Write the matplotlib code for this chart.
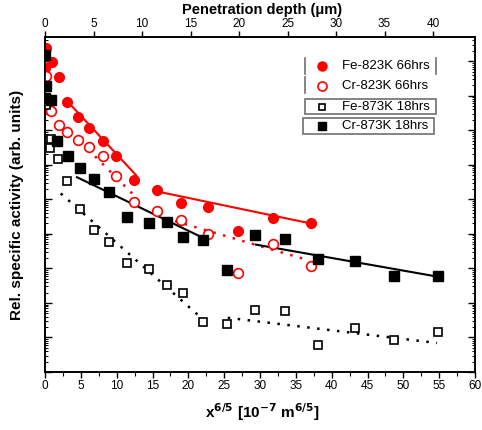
import numpy as np
import matplotlib
matplotlib.use("Agg")
import matplotlib.pyplot as plt
from matplotlib.lines import Line2D
from matplotlib.patches import Rectangle
from matplotlib.ticker import MultipleLocator, LogLocator, NullFormatter

plt.rcParams['font.family'] = ['Liberation Sans', 'DejaVu Sans']

# ---- data (x in 10^-7 m^6/5, y as log10 of relative activity) ----
fe823_x = [0.1, 1.0, 0.0, 1.95, 3.07, 4.6, 6.14, 8.09, 9.9, 12.4, 15.6, 19.0, 22.7, 26.9, 31.8, 37.1]
fe823_log = [9.39, 8.98, 8.80, 8.55, 7.82, 7.38, 7.06, 6.69, 6.25, 5.55, 5.26, 4.88, 4.77, 4.07, 4.45, 4.30]

cr823_x = [0.1, 0.85, 1.95, 3.07, 4.6, 6.14, 8.09, 9.9, 12.4, 15.6, 19.0, 22.7, 26.9, 31.8, 37.1]
cr823_log = [8.58, 7.56, 7.15, 6.95, 6.72, 6.51, 6.25, 5.67, 4.91, 4.65, 4.39, 4.01, 2.88, 3.72, 3.08]

fe873_x = [0.1, 0.85, 0.7, 1.81, 3.07, 4.88, 6.83, 8.93, 11.4, 14.5, 17.0, 19.2, 22.0, 25.4, 29.3, 33.5, 38.1, 43.2, 48.7, 54.8]
fe873_log = [7.72, 6.75, 6.50, 6.16, 5.52, 4.71, 4.10, 3.75, 3.17, 2.97, 2.53, 2.30, 1.45, 1.40, 1.80, 1.77, 0.78, 1.28, 0.93, 1.16]

cr873_x = [0.0, 0.1, 0.0, 0.85, 1.7, 3.2, 4.88, 6.83, 8.93, 11.4, 14.5, 17.0, 19.2, 22.0, 25.4, 29.3, 33.5, 38.1, 43.2, 48.7, 54.8]
cr873_log = [9.19, 8.28, 7.94, 7.88, 6.69, 6.25, 5.90, 5.58, 5.20, 4.48, 4.30, 4.33, 3.92, 3.81, 2.94, 3.98, 3.84, 3.28, 3.20, 2.79, 2.79]

# fitted segments (endpoints)
fe823_fit1_x, fe823_fit1_log = [3.07, 12.7], [7.85, 5.70]
fe823_fit2_x, fe823_fit2_log = [15.6, 37.1], [5.23, 4.30]
cr823_fit1_x, cr823_fit1_log = [6.0, 12.5], [6.45, 5.10]
cr823_fit2_x, cr823_fit2_log = [16.8, 36.5], [4.45, 3.25]
fe873_fit1_x, fe873_fit1_log = [2.2, 21.3], [5.17, 1.66]
fe873_fit2_x, fe873_fit2_log = [25.5, 54.7], [1.57, 0.84]
cr873_fit1_x, cr873_fit1_log = [4.46, 21.9], [5.64, 3.90]
cr873_fit2_x, cr873_fit2_log = [29.4, 54.8], [3.69, 2.76]

labels = ["Fe-823K 66hrs", "Cr-823K 66hrs", "Fe-873K 18hrs", "Cr-873K 18hrs"]
bottom_ticks = list(range(0, 61, 5))
top_ticks = list(range(0, 41, 5))

W, H = 482, 430
fig = plt.figure(figsize=(W / 100, H / 100), dpi=100)
fig.patch.set_facecolor('white')
ax = fig.add_axes([45 / W, 1 - 372 / H, 430 / W, 335 / H])

def p(v):
    return np.power(10.0, np.asarray(v))

RED = '#ff0000'
ax.plot(fe823_fit1_x, p(fe823_fit1_log), color=RED, lw=1.5, zorder=2)
ax.plot(fe823_fit2_x, p(fe823_fit2_log), color=RED, lw=1.5, zorder=2)
ax.plot(cr823_fit1_x, p(cr823_fit1_log), color=RED, lw=1.8, ls=(0, (1, 3)), zorder=2)
ax.plot(cr823_fit2_x, p(cr823_fit2_log), color=RED, lw=1.8, ls=(0, (1, 3)), zorder=2)
ax.plot(fe873_fit1_x, p(fe873_fit1_log), color='black', lw=1.8, ls=(0, (1, 3)), zorder=2)
ax.plot(fe873_fit2_x, p(fe873_fit2_log), color='black', lw=1.8, ls=(0, (1, 3)), zorder=2)
ax.plot(cr873_fit1_x, p(cr873_fit1_log), color='black', lw=1.5, zorder=2)
ax.plot(cr873_fit2_x, p(cr873_fit2_log), color='black', lw=1.5, zorder=2)

ax.plot(fe823_x, p(fe823_log), 'o', color=RED, ms=7, mec=RED, ls='none', zorder=3)
ax.plot(cr823_x, p(cr823_log), 'o', mfc='white', mec=RED, mew=1.2, ms=7, ls='none', zorder=3)
ax.plot(fe873_x, p(fe873_log), 's', mfc='white', mec='black', mew=1.2, ms=6, ls='none', zorder=3)
ax.plot(cr873_x, p(cr873_log), 's', color='black', ms=6.5, ls='none', zorder=3)

ax.set_yscale('log')
ax.set_ylim(1, 10 ** 9.7)
ax.set_xlim(0, 60)

ax2 = ax.twiny()
ax2.set_xlim(0, 430 / 9.7)
ax2.set_xticks(top_ticks)
ax2.tick_params(axis='x', direction='out', length=4, width=1, labelsize=8.5, pad=1)

ax.yaxis.set_major_locator(LogLocator(base=10, numticks=20))
ax.yaxis.set_minor_locator(LogLocator(base=10, subs=np.arange(2, 10), numticks=100))
ax.yaxis.set_major_formatter(NullFormatter())
ax.yaxis.set_minor_formatter(NullFormatter())
ax.tick_params(axis='y', which='both', direction='in', left=True, right=True,
               labelleft=False, labelright=False)
ax.tick_params(axis='y', which='major', length=5, width=1)
ax.tick_params(axis='y', which='minor', length=2.5, width=0.7)
ax2.tick_params(axis='y', which='both', labelleft=False, labelright=False)

ax.set_xticks(bottom_ticks)
ax.xaxis.set_minor_locator(MultipleLocator(2.5))
ax.tick_params(axis='x', which='both', direction='out', top=False, labelsize=8.5, pad=2)
ax.tick_params(axis='x', which='major', length=4, width=1)
ax.tick_params(axis='x', which='minor', length=3, width=0.8)
for a in (ax, ax2):
    for s in a.spines.values():
        s.set_linewidth(1.2)

fig.text(262 / W, 1 - 412 / H, r'x$^{\mathbf{6/5}}$ [10$^{\mathbf{-7}}$ m$^{\mathbf{6/5}}$]',
         ha='center', va='center', fontsize=11, fontweight='bold')
fig.text(262 / W, 1 - 10 / H, 'Penetration depth (\u03bcm)', ha='center', va='center',
         fontsize=10.5, fontweight='bold')
fig.text(17 / W, 1 - 205 / H, 'Rel. specific activity (arb. units)', ha='center', va='center',
         rotation=90, fontsize=11, fontweight='bold')

# legend drawn as separate boxes
tf = fig.transFigure
def fx(px):
    return px / W
def fy(py):
    return 1 - py / H

GRAY = '#707070'
fig.add_artist(Line2D([fx(305), fx(305)], [fy(58), fy(74)], color=GRAY, lw=1.2, transform=tf))
fig.add_artist(Line2D([fx(436), fx(436)], [fy(58), fy(74)], color=GRAY, lw=1.2, transform=tf))
fig.add_artist(Line2D([fx(305), fx(305)], [fy(77), fy(93)], color=GRAY, lw=1.2, transform=tf))
fig.add_artist(Rectangle((fx(305), fy(114)), fx(436) - fx(305), fy(99) - fy(114),
                         fill=False, ec=GRAY, lw=1.2, transform=tf))
fig.add_artist(Rectangle((fx(303), fy(134)), fx(434) - fx(303), fy(118) - fy(134),
                         fill=False, ec=GRAY, lw=1.2, transform=tf))

styles = [dict(marker='o', color=RED, mec=RED, ms=6.5),
          dict(marker='o', mfc='white', mec=RED, mew=1.2, ms=6.5),
          dict(marker='s', mfc='white', mec='black', mew=1.2, ms=5),
          dict(marker='s', color='black', mec='black', ms=5.5)]
rows = [66, 86, 107, 126]
for lab, st, ry in zip(labels, styles, rows):
    fig.add_artist(Line2D([fx(322)], [fy(ry)], ls='none', transform=tf, **st))
    fig.text(fx(342), fy(ry), lab, ha='left', va='center', fontsize=9.5)

fig.savefig('out.png', dpi=100, facecolor='white')
